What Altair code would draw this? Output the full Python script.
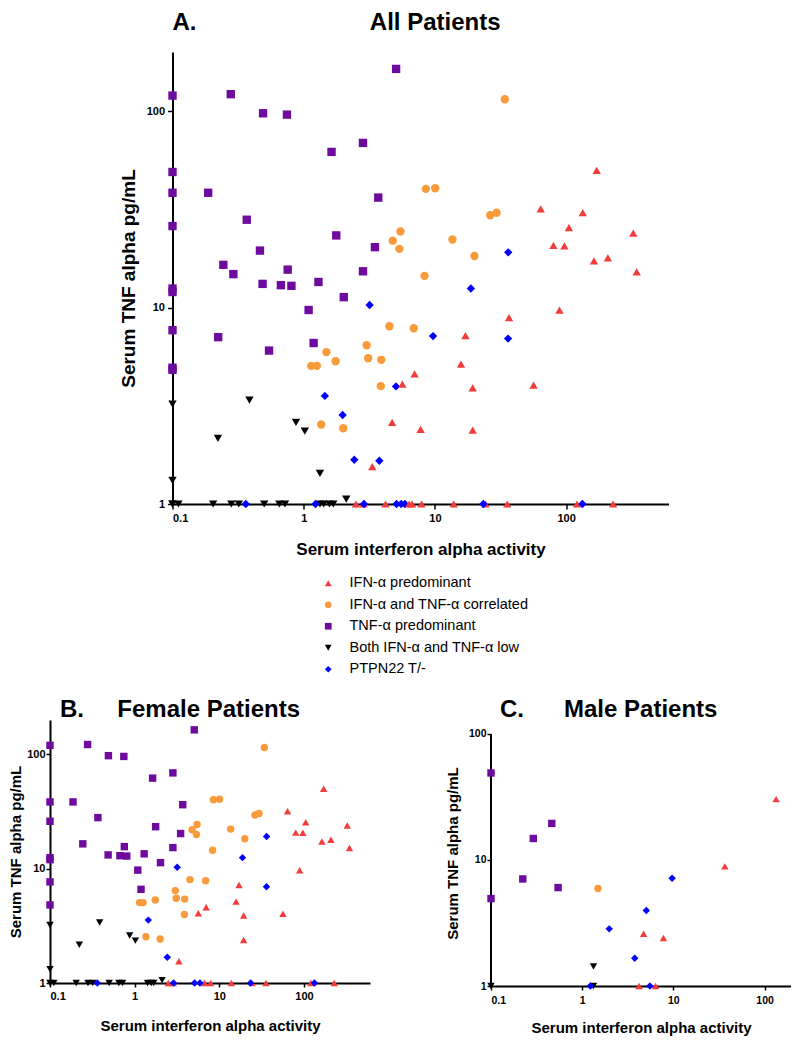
import altair as alt
import pandas as pd

FONT = "Liberation Sans"

GROUPS = ["IFN-\u03b1 predominant", "IFN-\u03b1 and TNF-\u03b1 correlated",
          "TNF-\u03b1 predominant", "Both IFN-\u03b1 and TNF-\u03b1 low", "PTPN22 T/-"]
COLORS = ["#F23C3C", "#F99B3A", "#6E0B9E", "#000000", "#0000FF"]
SHAPES = ["triangle-up", "circle", "square", "triangle-down", "diamond"]

# ---- Female patients (panel B) ----
f_ifn_x = [171, 64, 105, 325, 80, 97, 163, 208, 345, 89, 17.1, 15.8, 7.0, 5.65, 19.4, 56.5, 19.4, 3.33,
           2.5, 2.85, 6.7, 7.9, 13.9, 24.3, 35.6, 121, 228]
f_ifn_y = [50, 31.8, 25.5, 23.9, 20.7, 20.6, 17.3, 17.9, 15.2, 9.7, 7.2, 5.15, 4.6, 4.08, 3.9, 4.03, 2.38, 1.55,
           1, 1, 1, 1, 1, 1, 1, 1, 1]
f_cor_x = [34.1, 8.53, 10.05, 26.4, 29.5, 5.46, 4.77, 5.36, 13.6, 20, 8.33, 4.5, 6.9, 3.02, 3.1, 3.9, 3.87,
           1.75, 1.14, 1.26, 1.36, 2.0]
f_cor_y = [115, 40.2, 40.5, 29.5, 30.4, 24.4, 21.9, 19.9, 22.2, 18.3, 14.5, 8.03, 7.85, 6.43, 5.52, 5.42, 3.98,
           5.33, 5.05, 5.05, 2.54, 2.43]
f_tnf_x = [0.1, 0.278, 0.49, 0.745, 0.1, 0.187, 0.1, 0.368, 1.63, 2.83, 3.7, 1.77, 3.49, 5.06, 0.244, 0.755,
           0.486, 0.67, 0.806, 1.295, 2.83, 2.02, 1.09, 0.1, 0.1, 0.1, 0.1, 1.19]
f_tnf_y = [120, 122, 97.5, 96, 38.4, 38.4, 26, 28, 62, 68.9, 36.3, 23.3, 20.3, 164, 16.5, 15.6,
           13.2, 13, 12.9, 13.5, 15.3, 11.3, 9.72, 12.5, 12.0, 7.67, 4.82, 6.6]
f_low_x = [0.1, 0.1, 0.386, 0.222, 0.873, 1.02, 2.11,
           0.1, 0.111, 0.204, 0.281, 0.32, 0.5, 0.652, 0.72, 1.42, 1.57, 1.68]
f_low_y = [3.22, 1.32, 3.38, 2.16, 2.6, 2.35, 1.06,
           1, 1, 1, 1, 1, 1, 1, 1, 1, 1, 1]
f_ptp_x = [36.2, 18.8, 3.18, 36.1, 1.45, 2.43, 0.362, 2.88, 5.1, 5.9, 23.4, 133]
f_ptp_y = [19.1, 12.5, 10.3, 6.95, 3.55, 1.68, 1, 1, 1, 1, 1, 1]

# ---- Male patients (panel C) ----
m_ifn_x = [134, 36.7, 4.72, 7.78, 4.2, 6.37]
m_ifn_y = [30.4, 8.9, 2.6, 2.4, 1, 1]
m_cor_x = [1.49]
m_cor_y = [5.93]
m_tnf_x = [0.1, 0.1, 0.223, 0.291, 0.464, 0.544]
m_tnf_y = [49, 4.94, 7.07, 14.8, 19.5, 6.04]
m_low_x = [1.33, 1.33, 0.1]
m_low_y = [1.43, 1, 1]
m_ptp_x = [9.68, 5.05, 1.98, 3.77, 1.23, 5.53]
m_ptp_y = [7.16, 3.97, 2.84, 1.66, 1, 1]

# y-axis extent of panel C (axis line runs from 1 to 100)
c_axis_x = [0.1]
c_axis_y = [1]
c_axis_y2 = [100]

rows = []
for sex, sets in [("F", [(f_ifn_x, f_ifn_y), (f_cor_x, f_cor_y), (f_tnf_x, f_tnf_y), (f_low_x, f_low_y), (f_ptp_x, f_ptp_y)]),
                  ("M", [(m_ifn_x, m_ifn_y), (m_cor_x, m_cor_y), (m_tnf_x, m_tnf_y), (m_low_x, m_low_y), (m_ptp_x, m_ptp_y)])]:
    for g, (xs, ys) in zip(GROUPS, sets):
        for xv, yv in zip(xs, ys):
            rows.append({"x": xv, "y": yv, "group": g, "sex": sex})
df = pd.DataFrame(rows)

NB = "\u00a0"


def panel(data, w, h, xmax, ymax, title, tdx, toffset, tick_fs, tick_size,
          xt_fs, x_lpad, x_tpad, yt_fs, y_lpad, y_tpad, size, y_domain_line=True, axis_rule=None):
    common = dict(domainColor="black", domainWidth=2, tickColor="black", tickWidth=1.5,
                  tickSize=tick_size, labelFont=FONT, labelFontWeight="bold", labelFontSize=tick_fs,
                  labelColor="black", titleFont=FONT, titleFontWeight="bold", titleColor="black",
                  grid=False, format="~g")
    xax = alt.Axis(values=[0.1, 1, 10, 100], title="Serum interferon alpha activity",
                   titleFontSize=xt_fs, titlePadding=x_tpad, labelPadding=x_lpad, **common)
    yax = alt.Axis(values=[1, 10, 100], title="Serum TNF alpha pg/mL", domain=y_domain_line,
                   titleFontSize=yt_fs, titlePadding=y_tpad, labelPadding=y_lpad, **common)
    xsc = alt.Scale(type="log", domain=[0.1, xmax], nice=False)
    ysc = alt.Scale(type="log", domain=[1, ymax], nice=False)
    pts = alt.Chart(data).mark_point(filled=True, opacity=1, size=size).encode(
        x=alt.X("x:Q", scale=xsc, axis=xax),
        y=alt.Y("y:Q", scale=ysc, axis=yax),
        color=alt.Color("group:N", scale=alt.Scale(domain=GROUPS, range=COLORS),
                        legend=alt.Legend(title=None)),
        shape=alt.Shape("group:N", scale=alt.Scale(domain=GROUPS, range=SHAPES),
                        legend=alt.Legend(title=None)),
        order=alt.Order("y:Q"),
    )
    layers = [pts]
    if axis_rule is not None:
        rule = alt.Chart(axis_rule).mark_rule(color="black", strokeWidth=2).encode(
            x=alt.X("x:Q", scale=xsc, axis=xax),
            y=alt.Y("y:Q", scale=ysc, axis=yax),
            y2="y2:Q",
        )
        layers = [rule, pts]
    ch = alt.layer(*layers) if len(layers) > 1 else pts
    return ch.properties(
        width=w, height=h,
        title=alt.TitleParams(text=title, anchor="start", frame="group", dx=tdx,
                              fontSize=24, fontWeight="bold", font=FONT, color="black",
                              offset=toffset),
    )


A = panel(df, 496, 452, 603, 200, "A." + NB * 26 + "All Patients" + NB * 27, 0, 17,
          11, 5, 17, 3, 18, 19, 3, 8, 70)
B = panel(df[df.sex == "F"], 320, 263, 603, 200, "B." + NB * 5 + "Female Patients", 10, -2,
          11, 4, 15, 3, 17, 15, 1, 3, 55)
c_rule = pd.DataFrame({"x": c_axis_x, "y": c_axis_y, "y2": c_axis_y2})
C = panel(df[df.sex == "M"], 300, 266, 195, 129, "C." + NB * 6 + "Male Patients", 9, -2,
          10.5, 4, 15, 5, 15, 15, 1, 8, 55, y_domain_line=False, axis_rule=c_rule)

bottom = alt.hconcat(B, C, spacing=75)

chart = alt.vconcat(
    A,
    bottom,
    spacing=141,
    center=True,
).properties(
    padding={"top": 3, "left": 0, "right": 0, "bottom": 0}
).configure_view(stroke=None).configure_legend(
    orient="none", legendX=271, legendY=524, labelFont=FONT, labelFontSize=14.5,
    labelColor="black", symbolSize=45, labelOffset=14, rowPadding=6.5, symbolStrokeWidth=0,
    labelLimit=400,
).configure_point(strokeWidth=0)

chart.save("out.html", embed_options={"renderer": "svg", "actions": False})
